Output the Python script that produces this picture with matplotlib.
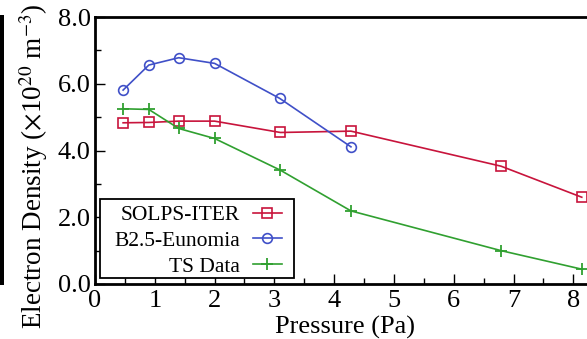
import matplotlib
matplotlib.use("Agg")
import matplotlib.pyplot as plt
from matplotlib.patches import Rectangle
from matplotlib.ticker import MultipleLocator

plt.rcParams['font.family'] = ['Liberation Serif', 'DejaVu Serif']
plt.rcParams['mathtext.fontset'] = 'stix'

# Data
solps_x = [0.47, 0.90, 1.40, 2.00, 3.10, 4.28, 6.79, 8.14]
solps_y = [4.83, 4.84, 4.88, 4.88, 4.54, 4.58, 3.53, 2.60]
b25_x = [0.47, 0.90, 1.40, 2.00, 3.09, 4.28]
b25_y = [5.81, 6.56, 6.78, 6.61, 5.56, 4.11]
ts_x = [0.47, 0.90, 1.40, 2.00, 3.10, 4.28, 6.79, 8.15]
ts_y = [5.25, 5.23, 4.66, 4.36, 3.41, 2.19, 1.00, 0.44]

labels = ['SOLPS-ITER', 'B2.5-Eunomia', 'TS Data']
colors = ['#c8143c', '#4050c8', '#30a030']

W, H = 587, 339
fig = plt.figure(figsize=(W/100, H/100), dpi=100)
px = 59.8
xmax = 8.35
ax = fig.add_axes([95/W, (H-284)/H, xmax*px/W, (284-17)/H])
ax.set_xlim(0, xmax)
ax.set_ylim(0, 8)

ax.plot(solps_x, solps_y, color=colors[0], lw=1.2, marker='s', ms=6.5,
        mfc='none', mec=colors[0], mew=1.2, label=labels[0])
ax.plot(b25_x, b25_y, color=colors[1], lw=1.2, marker='o', ms=7,
        mfc='none', mec=colors[1], mew=1.2, label=labels[1])
ax.plot(ts_x, ts_y, color=colors[2], lw=1.2, marker='+', ms=8,
        mew=1.3, label=labels[2])

ax.xaxis.set_major_locator(MultipleLocator(1))
ax.xaxis.set_minor_locator(MultipleLocator(0.5))
ax.yaxis.set_major_locator(MultipleLocator(2))
ax.yaxis.set_minor_locator(MultipleLocator(1))
ax.yaxis.set_major_formatter(plt.FormatStrFormatter('%.1f'))
ax.tick_params(which='both', direction='in', labelsize=19, width=1.0)
ax.tick_params(which='major', length=7)
ax.tick_params(axis='x', which='major', pad=4)
ax.tick_params(axis='y', which='major', pad=3)
ax.tick_params(which='minor', length=4)
for s in ax.spines.values():
    s.set_linewidth(2.0)

ax.set_xlabel('Pressure (Pa)', fontsize=19, labelpad=3)
fig.text(34/W, 1-166/H, r'Electron Density ($\times$10$^{20}$ m$^{-3}$)',
         rotation=90, ha='center', va='center', fontsize=19.5)

# legend (frame drawn separately to match box padding)
leg = ax.legend(loc='upper right', bbox_to_anchor=(282/W, 1-205/H),
                bbox_transform=fig.transFigure,
                markerfirst=False, fontsize=15.5, frameon=False,
                handlelength=1.35, borderpad=0, labelspacing=0.27,
                handletextpad=0.6, borderaxespad=0)
leg.set_zorder(6)
box = Rectangle((100/W, (H-278)/H), 194/W, 79/H, transform=fig.transFigure,
                facecolor='white', edgecolor='black', linewidth=1.3,
                zorder=5, clip_on=False)
ax.add_artist(box)

fig.patches.append(Rectangle((0, (H-285)/H), 4/W, 270/H, transform=fig.transFigure,
                             facecolor='black', edgecolor='none'))

fig.savefig('out.png', dpi=100)
